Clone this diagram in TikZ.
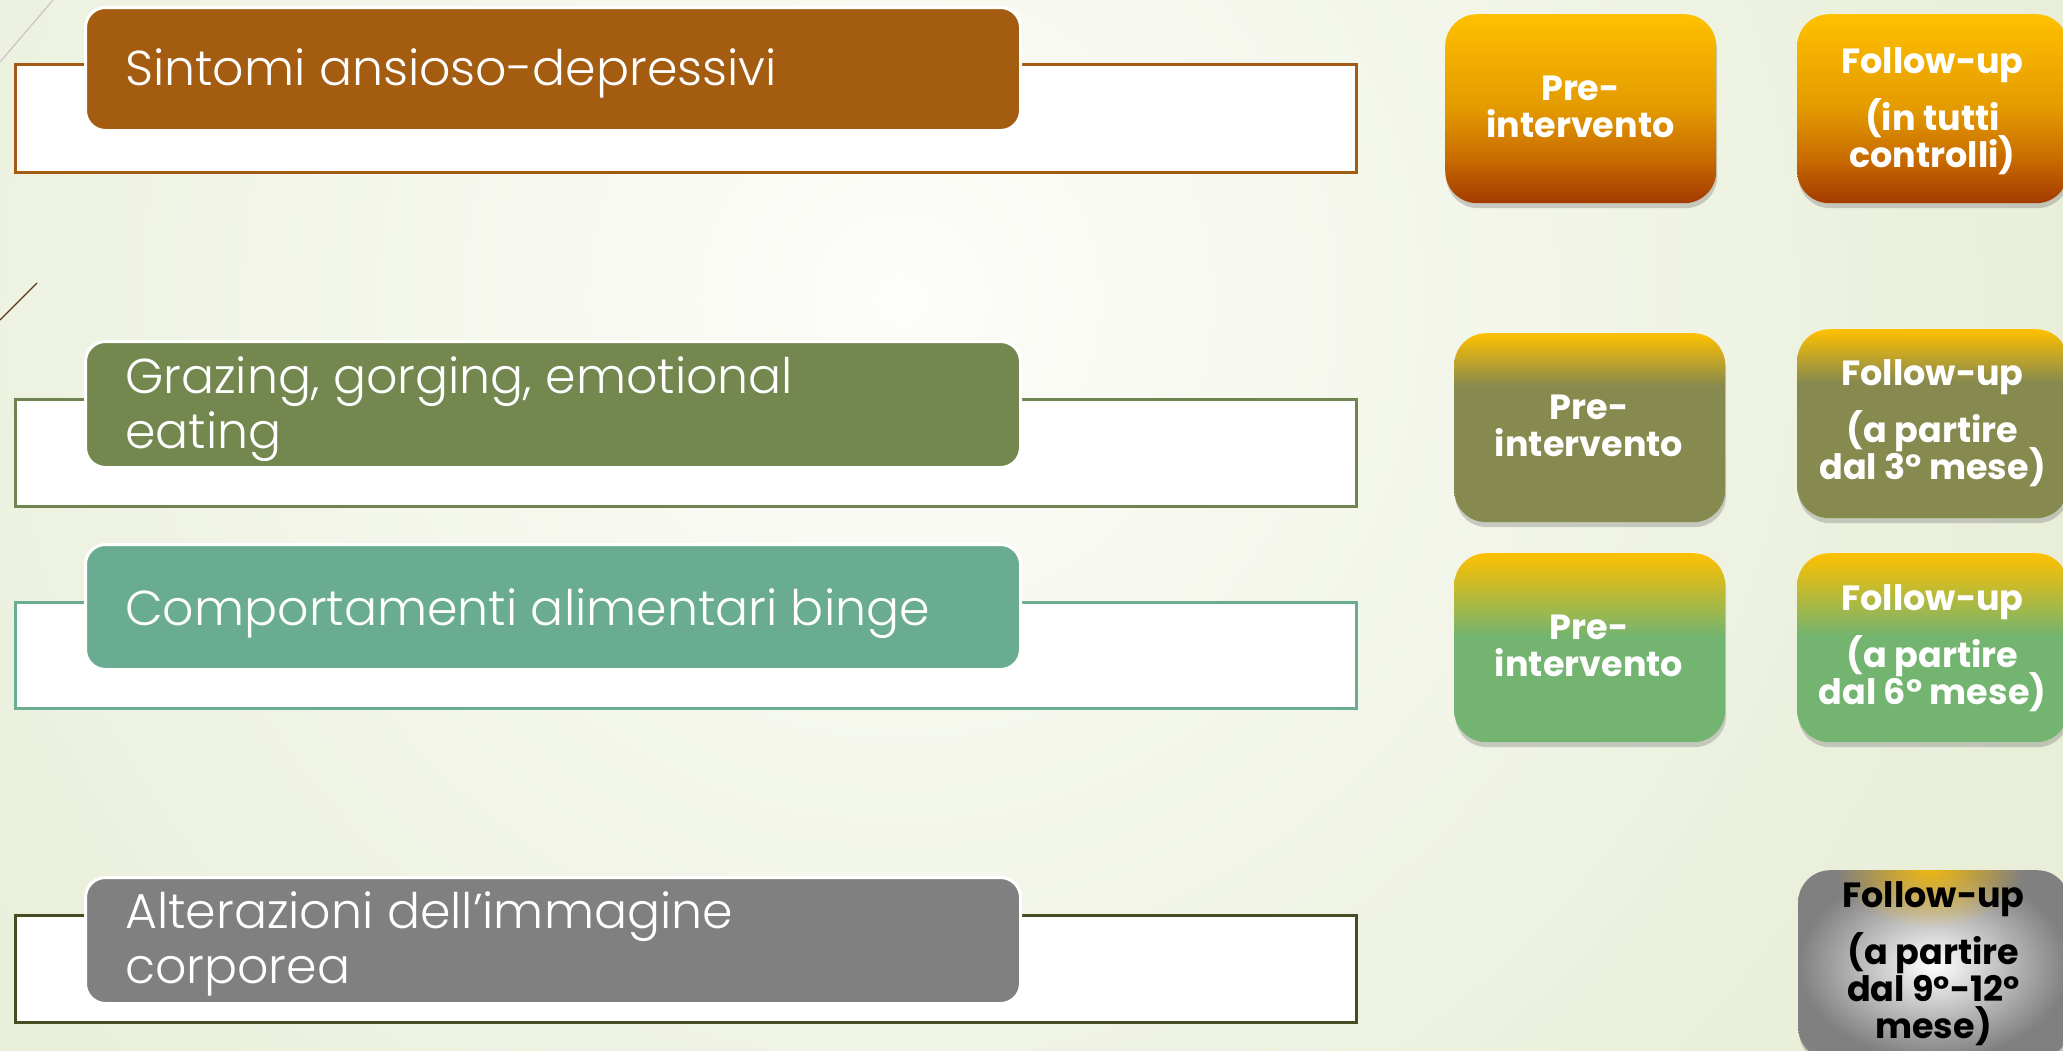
\documentclass[tikz,border=0pt]{standalone}
\usepackage{fontspec}
\setmainfont{Poppins}
\newfontfamily\lightfont{Poppins Light}
\usetikzlibrary{shadows,fadings}
\definecolor{bgout}{HTML}{E8EED8}
\definecolor{bgin}{HTML}{FDFDFA}
\definecolor{gold}{HTML}{FFC000}
\definecolor{omid}{HTML}{E39A00}
\definecolor{omid2}{HTML}{C96C00}
\definecolor{obot}{HTML}{A33A00}
\definecolor{olv}{HTML}{878A4E}
\definecolor{grn}{HTML}{73B470}
\definecolor{cbrown}{HTML}{A45C10}
\definecolor{colive}{HTML}{74874F}
\definecolor{cteal}{HTML}{69AC92}
\definecolor{cgrey}{HTML}{808080}
\definecolor{fbrown}{HTML}{A35A12}
\definecolor{folive}{HTML}{70844F}
\definecolor{fteal}{HTML}{6AAD93}
\definecolor{fdark}{HTML}{454E22}
\pgfdeclareverticalshading{shorange}{100bp}{color(0bp)=(obot); color(25bp)=(obot); color(37bp)=(omid2); color(50bp)=(omid); color(75bp)=(gold); color(100bp)=(gold)}
\pgfdeclareverticalshading{sholive}{100bp}{color(0bp)=(olv); color(25bp)=(olv); color(61bp)=(olv); color(75bp)=(gold); color(100bp)=(gold)}
\pgfdeclareverticalshading{shgreen}{100bp}{color(0bp)=(grn); color(25bp)=(grn); color(53bp)=(grn); color(75bp)=(gold); color(100bp)=(gold)}
\tikzfading[name=softglow, inner color=transparent!10, outer color=transparent!100]
\newcommand\lefttext[1]{\vtop{\hsize=1000pt\parindent=0pt\raggedright\lightfont\fontsize{49}{55}\selectfont\lineskiplimit=-100pt #1\par}}
\newcommand\righttext[1]{\vtop{\hsize=320pt\parindent=0pt\centering\bfseries\fontsize{35}{37}\selectfont\lineskiplimit=-100pt #1\par}}
\tikzset{
  frame/.style={draw=#1, line width=3pt, fill=white, anchor=north west, inner sep=0pt, minimum width=1341pt},
  bar/.style={fill=#1, draw=white, line width=3pt, rounded corners=20pt, anchor=north west, inner sep=0pt, minimum width=935pt},
  ltext/.style={anchor=base west, inner sep=0pt, text=white},
  rbox/.style={anchor=north west, inner sep=0pt, minimum width=271pt, minimum height=189pt, rounded corners=32pt, shade, shading=#1,
    drop shadow={shadow xshift=1pt, shadow yshift=-5pt, opacity=.3, fill=black!60}},
  rtext/.style={anchor=base, inner sep=0pt, text=#1},
}
\begin{document}
\begin{tikzpicture}[x=1pt,y=-1pt]
\useasboundingbox (0,0) rectangle (2063,1050);
% background
\fill[bgout] (0,0) rectangle (2063,1050);
\begin{scope}
\clip (0,0) rectangle (2063,1050);
\shade[inner color=bgin, outer color=bgout] (-300,-900) rectangle (2100,1500);
\end{scope}
\draw[color=black!22, line width=1.2pt] (0,62) -- (53,0);
\draw[color=black!55!brown, line width=1.2pt] (0,320) -- (37,283);
% frames
\node[frame=fbrown, minimum height=108pt] (f1) at (14,63) {};
\node[frame=folive, minimum height=107pt] (f2) at (14,398) {};
\node[frame=fteal, minimum height=106pt] (f3) at (14,601) {};
\node[frame=fdark, minimum height=107pt] (f4) at (14,914) {};
% bars
\node[bar=cbrown, minimum height=123pt] (b1) at (84,6) {};
\node[bar=colive, minimum height=126pt] (b2) at (84,340) {};
\node[bar=cteal, minimum height=125pt] (b3) at (84,543) {};
\node[bar=cgrey, minimum height=126pt] (b4) at (84,876) {};
\node[ltext] (t1) at (125,85) {\lefttext{Sintomi ansioso-depressivi}};
\node[ltext] (t2) at (125,393) {\lefttext{Grazing, gorging, emotional\\eating}};
\node[ltext] (t3) at (125,625) {\lefttext{Comportamenti alimentari binge}};
\node[ltext] (t4) at (125,928) {\lefttext{Alterazioni dell’immagine\\corporea}};
% right boxes
\node[rbox=shorange] (p1) at (1445,14) {};
\node[rbox=shorange] (o1) at (1797,14) {};
\node[rbox=sholive] (p2) at (1454,333) {};
\node[rbox=sholive] (o2) at (1797,329) {};
\node[rbox=shgreen] (p3) at (1454,553) {};
\node[rbox=shgreen] (o3) at (1797,553) {};
\node[anchor=north west, inner sep=0pt, minimum width=271pt, minimum height=189pt, rounded corners=32pt,
  inner color=white, outer color=black!50,
  drop shadow={shadow xshift=1pt, shadow yshift=-5pt, opacity=.3, fill=black!60}] (o4) at (1798,870) {};
\begin{scope}
\clip[rounded corners=32pt] (1798,870) rectangle (2069,1059);
\fill[gold, path fading=softglow] (1930,866) ellipse (95pt and 62pt);
\end{scope}
\node[rtext=white] (pt1) at (1580.5,100) {\righttext{Pre-\\intervento}};
\node[rtext=white] (ot1) at (1932.5,73) {\righttext{Follow-up\\[20pt](in tutti\\controlli)}};
\node[rtext=white] (pt2) at (1589,419) {\righttext{Pre-\\intervento}};
\node[rtext=white] (ot2) at (1932.5,385) {\righttext{Follow-up\\[20pt](a partire\\dal 3° mese)}};
\node[rtext=white] (pt3) at (1589,639) {\righttext{Pre-\\intervento}};
\node[rtext=white] (ot3) at (1932.5,610) {\righttext{Follow-up\\[20pt](a partire\\dal 6° mese)}};
\node[rtext=black] (ot4) at (1933.5,907) {\righttext{Follow-up\\[20pt](a partire\\dal 9°-12°\\mese)}};
\end{tikzpicture}
\end{document}
